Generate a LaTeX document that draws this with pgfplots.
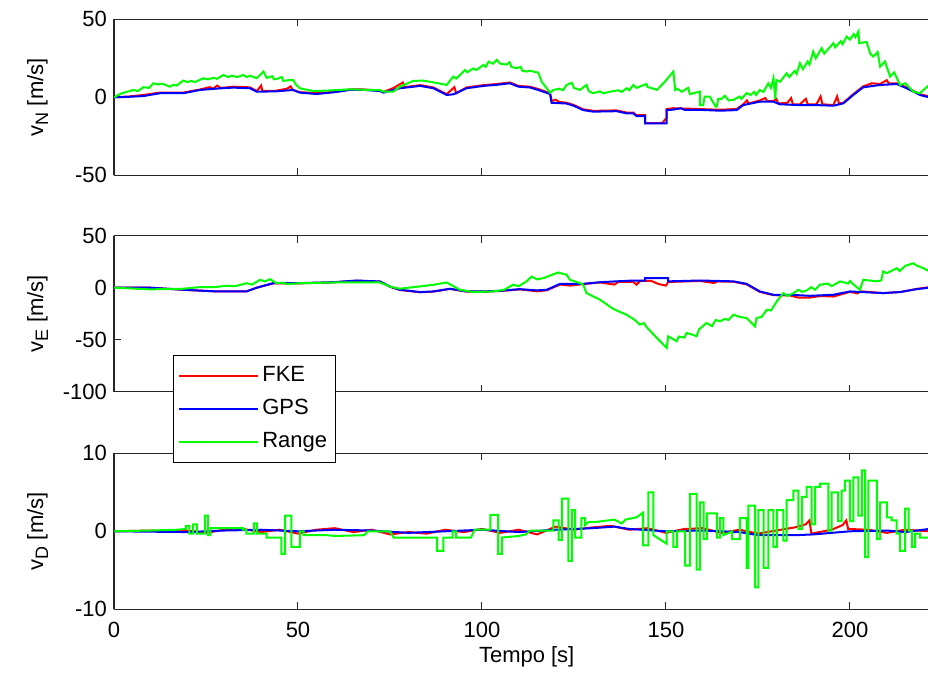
\documentclass[border=0pt]{standalone}
\usepackage{fontspec}
\setmainfont{Liberation Sans}
\usepackage{pgfplots}
\pgfplotsset{compat=1.18}

\newcommand{\sub}[1]{\raisebox{-0.45ex}{\fontsize{9}{10}\selectfont #1}}
\pgfplotsset{
 vstyle/.style={
  width=407pt, height=78pt, scale only axis,
  xmin=0, xmax=221.2,
  axis x line*=box, axis y line*=left,
  tick align=inside,
  xtick={0,50,100,150,200},
  major tick length=3.5pt,
  every tick/.style={black!85, line width=0.5pt},
  axis line style={black!85, line width=0.6pt},
  tick label style={font=\fontsize{11}{13}\selectfont},
  /pgf/number format/assume math mode=true,
  every axis y label/.style={at={(axis description cs:-0.0872,0.5)}, rotate=90, anchor=base, font=\fontsize{11}{13}\selectfont},
  anchor=north west,
  xticklabel style={yshift=-3pt},
 },
 fke/.style={red, line width=1pt, no markers},
 gps/.style={blue, line width=1pt, no markers},
 rng/.style={green, line width=1pt, no markers},
}

\begin{document}
\begin{tikzpicture}
\path[use as bounding box] (0,0) rectangle (464pt,-336.5pt);

% ---------------- v_N ----------------
\begin{axis}[vstyle, at={(57pt,-9.65pt)}, ymin=-50, ymax=50, ytick={-50,0,50}, xticklabels={},
  ylabel={v\sub{N} [m/s]}]
\addplot[fke] coordinates {(0,0) (4,0.5) (8,1.5) (12.5,3.0) (18.8,3.0) (23.4,5) (26,6.5) (27,5.5) (28,7.5) (29,6) (32.4,6.8) (36.9,6.4) (38.8,4.0) (40,7.5) (40.3,4.0) (44,4.2) (47,5.5) (48,7) (48.5,4.8) (50.5,3.3) (55.1,2.6) (60,3.6) (64.1,5) (68,5) (72.3,4.3) (73.2,3.4) (76,6) (78.5,9.5) (79,6.5) (83.2,7.8) (86.8,6.3) (90.4,2.0) (92.5,6.5) (93,2.5) (95.8,6.3) (100.4,7.8) (104,8.5) (107.6,9.5) (109.9,7.3) (113,6.8) (115.3,5.3) (118.5,2.6) (119,-2.5) (120,-1.5) (121,-3) (123,-3.5) (125,-5) (127.5,-7.7) (130.2,-8.7) (136.6,-8.4) (139.3,-9.8) (141.1,-9.8) (142,-11.5) (144.3,-11.5) (144.3,-16.5) (149,-16.5) (150.2,-13) (150.2,-7.5) (152,-7) (158.8,-7.5) (164.7,-8) (169.2,-7.5) (171,-4.5) (172,-2) (172.5,-4) (175.5,-2) (177,-0.5) (177.5,-2.5) (179.2,-2.5) (180,-1) (180.5,-4) (183,-3.5) (184,-0.5) (184.5,-4.5) (186.4,-4.5) (188,-1) (188.5,-4.5) (190.9,-4.5) (192,0.5) (192.5,-4.5) (195.5,-5) (196.5,0.5) (197,-4) (198.2,-3.5) (200.9,2) (203.6,7) (206,9) (208.2,8.5) (210,11) (210.5,9) (212.7,9) (215.4,6.3) (219,2) (221.5,0.5)};
\addplot[gps] coordinates {(0,0) (4,0.3) (8,0.8) (12.5,2.6) (18.8,2.6) (23.4,4.7) (28,5.6) (32.4,6.2) (36.9,5.8) (38.8,3.6) (44,3.8) (48.7,4.7) (50.5,3.0) (55.1,2.1) (60,3.3) (64.1,4.7) (68,4.7) (72.3,4.0) (73.2,3.0) (77.7,5.8) (83.2,7.3) (86.8,5.8) (90.4,1.5) (92.2,1.9) (95.8,5.8) (100.4,7.3) (104,8) (107.6,9) (109.9,6.8) (113,6.3) (115.3,4.7) (118.5,2.1) (118.9,-3.5) (123,-4) (125,-5.5) (127.5,-8.2) (130.2,-9.2) (136.6,-8.9) (139.3,-10.3) (141.1,-10.3) (142,-12) (144.3,-12) (144.3,-16.7) (150.2,-16.7) (150.2,-8.2) (152,-7.9) (154,-7) (155,-8) (158.8,-8) (164.7,-8.6) (169.2,-8.2) (171,-5) (175.5,-2.8) (179.2,-2.8) (181,-4.5) (186.4,-5) (190.9,-5) (195.5,-5.4) (198.2,-3.9) (200.9,1.5) (203.6,6.4) (208.2,7.9) (212.7,8.5) (215.4,5.8) (219,1.5) (221.5,0)};
\addplot[rng] coordinates {(0,0) (2,2.5) (5.3,4.7) (6.5,4) (8,6.5) (9.5,6) (10.7,9) (12,8.2) (13,8.8) (15.2,6.8) (16,8) (17,7.5) (18.8,10.7) (20,9.8) (21,10.5) (22,9.8) (24.3,12.2) (25.5,11.5) (27,12.5) (28,11.8) (29.7,14.3) (31,13) (32,13.8) (33.5,13) (35.1,14.3) (36,13) (37,13.8) (38.8,12.2) (40.6,16.5) (41.5,12.5) (43,13.5) (43.5,11.5) (44.5,12) (45.6,13) (46,10.5) (47.5,11) (48.7,11) (49.5,8) (50.5,5.8) (52,5) (54.2,4) (58,4.3) (64.1,5.1) (68,4.8) (72.3,4.6) (73.2,3.6) (75.9,3.6) (77.7,6.8) (81.3,10.5) (84,10.7) (87,9.5) (90.4,7.9) (92.2,13.3) (93,12) (95.4,17.5) (96,16) (97.6,18.5) (98.5,17.5) (100.4,20.8) (101,19.5) (101.8,22.9) (103,21.5) (104,24) (105,21.5) (106.7,21) (107.5,22.5) (108,19.5) (109.4,18.6) (110.5,19.5) (111,17) (112.1,16.5) (113,17) (115.3,15.8) (116.2,10) (118.5,3) (119.4,4.7) (121,5.5) (122,4.5) (123,7.9) (124.4,9.3) (125,6) (126.6,4.7) (128.4,7.9) (129,4) (130.2,2.6) (132,3.8) (133,2.5) (134.8,3.6) (137,4.5) (138,3.5) (139.3,5.8) (140,4.5) (141.1,7.9) (142,6) (143,7) (144.7,8.5) (145,6.5) (146,6) (147.5,4.7) (149.7,10) (152,16.5) (152.5,4.7) (153,5.5) (154.3,3.6) (156,6) (156.5,2) (157.4,2.6) (159.2,3.6) (159.2,-5) (160.1,-5) (160.5,0.4) (161.9,0.4) (163.5,-6) (163.8,-6) (164.2,-1) (165.1,-1) (166,1) (167,-2) (168.3,-1.7) (170,0.5) (170.5,-1) (171.9,2.6) (173,1.5) (174,3.5) (174.5,1.5) (175.5,4.7) (176.5,3.5) (177.8,9) (178.5,6) (179.2,12.2) (179.7,-1) (180,11) (181,10) (182.8,15.4) (183.5,13) (185,17) (185.5,15) (186.4,21.8) (187.2,18) (188.5,23) (189,21) (190,29.3) (190.7,25) (192.3,31.5) (193,28) (195.5,34.7) (196,32) (197.5,36) (198,34) (199.1,38.9) (200,37) (201,40.5) (201.5,38.5) (202.3,42.2) (202.5,34.7) (204.5,35.5) (205.5,28) (206.3,26.1) (207.5,29) (208.2,19.7) (209.5,23) (210.9,13.3) (212,16) (213.6,7.9) (215,9) (217.2,3.6) (219,2.6) (221.5,7.9)};
\end{axis}

% ---------------- v_E ----------------
\begin{axis}[vstyle, at={(57pt,-117.85pt)}, ymin=-100, ymax=50, ytick={-100,-50,0,50}, xticklabels={},
  ylabel={v\sub{E} [m/s]}]
\addplot[fke] coordinates {(0,0) (9.8,0) (18.8,-2) (27.9,-3.6) (36,-3.6) (38.8,0) (43.3,4.2) (50.5,4.2) (59.6,5.1) (65.9,6.7) (72.3,5.8) (75,0.9) (77.7,-2.2) (83.2,-4.4) (86.8,-3.8) (91.3,-1.2) (95.8,-3.8) (100.4,-3.8) (104.9,-3.2) (110.3,-1.6) (114.9,-3.5) (117.6,-2.5) (121.2,3) (124,2) (127.5,3.5) (132.1,5) (136,3) (137,5.5) (141.1,5.5) (142,3) (143,6.5) (146,6.5) (148,3.5) (150,2) (150.6,5.5) (155,6) (159.2,6.5) (163,4.5) (164,6) (168.3,5.8) (171.9,3.2) (175.5,-4) (179.2,-7.2) (183.7,-7.5) (186,-9.5) (189.1,-9.5) (192,-8) (195.5,-8.5) (200,-4) (202,-5.5) (203,-3.5) (209,-5.2) (213.6,-4.2) (218.1,-1.2) (221.5,0.5)};
\addplot[gps] coordinates {(0,0) (9.8,0) (18.8,-2) (27.9,-3.6) (36,-3.6) (38.8,0) (43.3,4.4) (50.5,4.4) (59.6,5.3) (65.9,6.9) (72.3,6) (75,1.1) (77.7,-2) (83.2,-4.2) (86.8,-3.6) (91.3,-1) (95.8,-3.6) (100.4,-3.6) (104.9,-3) (110.3,-1.4) (114.9,-2.6) (117.6,-2) (121.2,3.7) (127.5,3.7) (132.1,5.3) (141.1,6.9) (144.3,6.9) (144.3,9.2) (150.6,9.2) (150.6,6.1) (159.2,6.9) (168.3,6.1) (171.9,3.7) (175.5,-3.6) (179.2,-6.8) (183.7,-6.8) (189.1,-7.8) (195.5,-6.8) (200,-3.6) (209,-5.2) (213.6,-4.2) (218.1,-1.4) (221.5,0)};
\addplot[rng] coordinates {(0,0) (9.8,-1.6) (18.8,-1) (23.4,0.6) (27,0.5) (30.6,1.8) (33,1.5) (36,4.3) (37.5,3) (39.7,7.6) (41,6) (42.4,8.2) (44.2,4.3) (46,4.8) (47,3.5) (50.5,4.3) (59.6,5) (72.3,5) (75,1.1) (77.7,-1) (86.8,2.8) (90.4,5) (94,-2) (97.6,-4.2) (103,-3.6) (106,-2) (108.5,2.9) (110,1.5) (112.1,6.1) (113.5,10.7) (115,8) (116.7,9.2) (118,11) (120.7,14.6) (123,12.4) (123.9,7.6) (126.6,4.4) (127.5,3) (128.4,-5.2) (132.1,-11.6) (135.7,-20.5) (139.3,-26) (141.5,-31) (142.9,-35.5) (144,-34) (144.7,-37.8) (147.5,-48.3) (150.2,-57.9) (150.6,-46.7) (152.9,-51.5) (153.5,-47) (155,-48) (155.6,-43.5) (157,-45) (158.3,-46.7) (159,-40) (161,-33.9) (162.5,-37) (163.5,-31) (164.7,-32.3) (166,-30) (167,-31) (168.3,-26) (170,-28) (171.9,-29.2) (174.2,-37.2) (174.6,-29.2) (176,-28) (177.4,-21.2) (178.5,-22) (180.1,-13.2) (181.9,-5.2) (183,-8) (184.6,-5.2) (186,-2) (187,-4) (188.2,-2.7) (189.5,0.5) (190.5,-2) (191.8,2.8) (194,4) (195,1.5) (197.3,6.1) (199.5,4) (200,6.5) (201,3) (202.7,-2) (203.6,7.6) (207.3,6.1) (208.5,7) (209,15.6) (210,14) (212.7,18.8) (213.5,16) (215,21) (217.2,23.5) (218,21.5) (219.9,18.8) (221.5,16)};
\end{axis}

% ---------------- v_D ----------------
\begin{axis}[vstyle, at={(57pt,-226.65pt)}, ymin=-10, ymax=10, ytick={-10,0,10},
  ylabel={v\sub{D} [m/s]}, xlabel={Tempo [s]},
  every axis x label/.style={at={(axis description cs:0.507,0)}, anchor=base, yshift=-26.85pt, font=\fontsize{11}{13}\selectfont},
  legend style={at={(rel axis cs:0.0725,1.631)}, anchor=north west, draw=black, line width=0.5pt, fill=white,
    font=\fontsize{11}{13}\selectfont, inner xsep=2pt, inner ysep=3pt, row sep=2pt,
    nodes={inner sep=2pt, text height=8pt, text depth=2.5pt}},
  legend cell align=left,
  legend image code/.code={\path (0pt,0pt) -- (4.5pt,0pt); \draw[#1, line width=0.8pt] (4.5pt,0pt) -- (39.5pt,0pt);}]
\addplot[fke] coordinates {(0,0) (10,0.1) (20,0.1) (25,-0.2) (30,0.2) (35,0.3) (40,-0.1) (45,0.2) (50,-0.3) (55,0.2) (60,0.4) (65,-0.1) (70,0.2) (75,-0.4) (80,-0.1) (85,-0.3) (90,0.2) (95,-0.1) (100,0.3) (105,-0.2) (110,0.2) (115,-0.4) (120,0.6) (125,0.2) (130,0.5) (135,0.7) (140,0.2) (145,0.4) (150,-0.2) (155,0.3) (160,0.4) (165,-0.2) (170,0.2) (175,-0.3) (180,0.1) (185,0.5) (188,0.9) (189,1.4) (189.5,-0.3) (195,0.2) (198,0.8) (199,1.4) (199.5,0.3) (205,0.2) (210,-0.2) (215,0.2) (221.5,0.0)};
\addlegendentry{FKE}
\addplot[gps] coordinates {(0,0) (20,-0.1) (30,0.1) (40,0.2) (50,0) (60,0.2) (70,0.1) (80,-0.2) (90,0.0) (100,0.2) (110,-0.1) (120,0.2) (130,0.4) (136,0.6) (140,0.3) (150,0.0) (160,0.1) (170,-0.1) (175,-0.5) (185,-0.5) (190,-0.4) (195,-0.2) (200,0.0) (210,0.1) (215,-0.1) (221.5,0.3)};
\addlegendentry{GPS}
\addplot[rng] coordinates {(0,0) (10,0.1) (17,0.2) (19.5,0.3) (19.5,0.7) (20.5,0.7) (20.5,-0.3) (21.5,-0.3) (21.5,0.9) (22.5,0.9) (22.5,-0.3) (24.7,-0.3) (24.7,2.0) (25.5,2.0) (25.5,-0.5) (26.2,-0.5) (26.2,0.4) (35,0.4) (35,0.2) (36,0.2) (36,-0.3) (38,-0.3) (38,1.0) (38.8,1.0) (38.8,-0.3) (41.5,-0.3) (41.5,-0.8) (45.5,-0.8) (45.5,-2.9) (46.5,-2.9) (46.5,2.0) (48.2,2.0) (48.2,-2.0) (50.5,-2.0) (50.5,0) (51.5,0) (51.5,-0.5) (58,-0.5) (60,-0.6) (68,-0.5) (69,0) (75,0) (76,-0.8) (87.8,-0.8) (87.8,-2.5) (89.5,-2.5) (89.5,-0.8) (92,-0.8) (92,0) (93,0) (93,-0.8) (97,-0.8) (98,0.2) (102.3,0.2) (102.3,2.1) (104.4,2.1) (104.4,-2.9) (105.4,-2.9) (105.4,-0.8) (110,-0.6) (112,-0.4) (113,0.1) (119.4,0.1) (119.4,1.4) (120.8,1.4) (120.8,-1.1) (121.7,-1.1) (121.7,4.2) (123.5,4.2) (123.5,-3.8) (124.4,-3.8) (124.4,2.7) (125.3,2.7) (125.3,-0.8) (127,-0.8) (127,1.7) (128,1.7) (128,0.8) (129,1.2) (131,1.2) (136,1.5) (138,1.0) (139,1.5) (142,1.8) (143.8,2.4) (143.8,-1.8) (145.2,-1.8) (145.2,5.0) (146.6,5.0) (146.6,-0.5) (150.2,-1.6) (150.2,0) (152,0) (152,-2) (153,-2) (153,0) (155.2,0) (155.2,-4.4) (156.5,-4.4) (156.5,4.8) (158.3,4.8) (158.3,-4.9) (159.2,-4.9) (159.2,3.7) (160.2,3.7) (160.2,-1) (161.1,-1) (161.1,2.3) (163.8,2.3) (163.8,-0.8) (164.7,-0.8) (164.7,1.7) (165.6,1.7) (165.6,-0.5) (168,0) (168,-1) (170.1,-1) (170.1,1.7) (171.9,1.7) (171.9,-4.7) (172.4,-4.7) (172.4,3.3) (174.2,3.3) (174.2,-7.2) (175.1,-7.2) (175.1,2.7) (176.5,2.7) (176.5,-4.7) (177.8,-4.7) (177.8,2.7) (179.2,2.7) (179.2,-2.0) (180.1,-2.0) (180.1,2.7) (181.9,2.7) (181.9,-1.2) (182.8,-1.2) (182.8,4.0) (184.6,4.0) (184.6,5.2) (186,5.2) (186,0.3) (186.9,0.3) (186.9,4.4) (188.2,4.4) (188.2,5.7) (189.6,5.7) (189.6,0.9) (190.5,0.9) (190.5,5.7) (191.9,5.7) (191.9,6.1) (194.1,6.1) (194.1,0.1) (195,0.1) (195,5.0) (196.8,5.0) (196.8,1.3) (197.7,1.3) (197.7,5.2) (198.6,5.2) (198.6,6.5) (200,6.5) (200,1.3) (200.9,1.3) (200.9,6.9) (202.3,6.9) (202.3,2.0) (203.2,2.0) (203.2,7.8) (204.1,7.8) (204.1,-3.3) (205,-3.3) (205,6.5) (207.3,6.5) (207.3,-1) (208.2,-1) (208.2,3.7) (210,3.7) (210,1.8) (211.3,1.8) (211.3,1.4) (212.7,1.4) (212.7,-0.3) (213.6,-0.3) (213.6,-2.5) (215,-2.5) (215,2.9) (215.9,2.9) (215.9,0.1) (216.8,0.1) (216.8,-2.0) (217.7,-2.0) (217.7,-0.3) (219,-0.3) (219,-0.8) (221.5,-0.8)};
\addlegendentry{Range}
\end{axis}
\end{tikzpicture}
\end{document}
